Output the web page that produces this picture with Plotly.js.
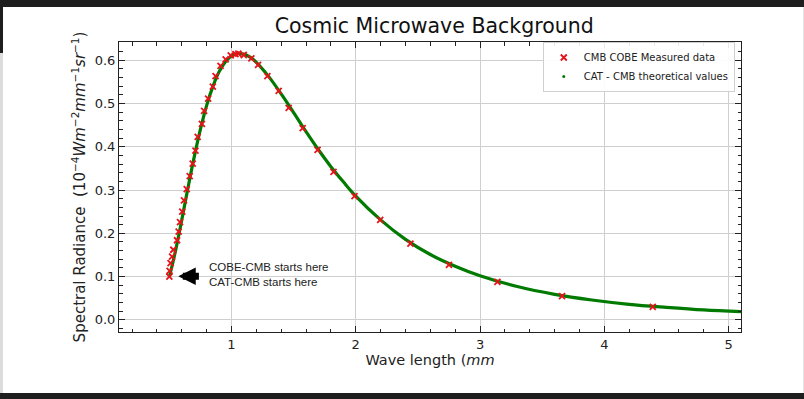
<!DOCTYPE html>
<html>
<head>
<meta charset="utf-8">
<script src="https://cdn.plot.ly/plotly-3.0.1.min.js"></script>
<style>
html,body{margin:0;padding:0;background:#fff;overflow:hidden;}
#chart{width:804px;height:399px;position:absolute;left:0;top:0;}
.bar{position:absolute;background:#1e1e1e;}
</style>
</head>
<body>
<div id="chart"></div>
<div class="bar" style="left:0;top:0;width:804px;height:7px;"></div>
<div class="bar" style="left:0;top:0;width:3px;height:53px;"></div>
<div class="bar" style="left:0;top:53px;width:3px;height:340px;background:#dcdcdc;"></div>
<div class="bar" style="left:803px;top:7px;width:1px;height:386px;background:#e6e6e6;"></div>
<div class="bar" style="left:0;top:393px;width:804px;height:6px;"></div>
<script>
// Theoretical (CAT-CMB) curve values
const theoWave = [0.50,0.55,0.60,0.65,0.70,0.75,0.80,0.85,0.90,0.95,1.00,1.05,1.10,1.15,1.20,1.30,1.40,1.50,1.60,1.70,1.80,1.90,2.00,2.20,2.40,2.60,2.80,3.00,3.30,3.60,3.90,4.20,4.50,4.80,5.10];
const theoRad  = [0.099,0.160,0.231,0.305,0.376,0.440,0.495,0.539,0.573,0.596,0.610,0.615,0.614,0.607,0.595,0.562,0.522,0.479,0.435,0.393,0.354,0.319,0.286,0.231,0.186,0.151,0.124,0.102,0.077,0.059,0.046,0.036,0.029,0.023,0.019];

// COBE measured points
const cobeWave = [0.500,0.502,0.510,0.522,0.532,0.562,0.575,0.586,0.604,0.618,0.640,0.664,0.688,0.710,0.728,0.762,0.780,0.812,0.850,0.872,0.912,0.953,0.994,1.032,1.055,1.099,1.160,1.214,1.289,1.380,1.460,1.573,1.693,1.821,1.990,2.197,2.440,2.750,3.140,3.660,4.390];
const cobeRad  = [0.100,0.113,0.131,0.146,0.162,0.184,0.204,0.226,0.250,0.276,0.302,0.332,0.361,0.391,0.423,0.453,0.483,0.511,0.539,0.563,0.587,0.602,0.611,0.614,0.615,0.612,0.604,0.589,0.563,0.529,0.490,0.443,0.393,0.342,0.286,0.231,0.176,0.127,0.088,0.055,0.030];

const xTicks = [1,2,3,4,5];
const yTicks = [0.0,0.1,0.2,0.3,0.4,0.5,0.6];

const traces = [
  {x: theoWave, y: theoRad, mode:'lines', line:{color:'#007a00', width:3.2, shape:'spline'}, showlegend:false, hoverinfo:'skip'},
  {x: cobeWave, y: cobeRad, mode:'markers', name:'CMB COBE Measured data',
   marker:{symbol:'x-thin-open', size:6, color:'#e8121a', line:{color:'#e8121a', width:1.8}}},
  {x:[null], y:[null], mode:'markers', name:'CAT - CMB theoretical values',
   marker:{symbol:'circle', size:3, color:'#007a00'}}
];

const tickFont = {family:'DejaVu Sans', size:13, color:'#222'};
const layout = {
  width:804, height:399,
  margin:{l:119, r:63, t:42, b:67, pad:0},
  paper_bgcolor:'#fff', plot_bgcolor:'#fff',
  font:{family:'DejaVu Sans', color:'#222'},
  title:{text:'Cosmic Microwave Background', font:{family:'DejaVu Sans', size:20.5, color:'#111'},
         x:0.54, xanchor:'center', y:0.935, yanchor:'middle', yref:'container'},
  xaxis:{range:[0.095,5.1], tickvals:xTicks, ticktext:xTicks.map(String), ticks:'inside', ticklen:6, tickwidth:1, tickcolor:'#222',
         showline:true, linecolor:'#222', linewidth:1, mirror:'allticks', zeroline:false,
         showgrid:true, gridcolor:'#cfcfcf', gridwidth:1, tickfont:tickFont,
         minor:{dtick:0.2, tick0:0, ticks:'inside', ticklen:3.5, tickcolor:'#222', showgrid:false},
         title:{text:'Wave length (<i>mm</i>', font:{family:'DejaVu Sans', size:14.5, color:'#222'}, standoff:3}},
  yaxis:{range:[-0.028,0.642], tickvals:yTicks, ticktext:yTicks.map(v=>v.toFixed(1)), ticks:'inside', ticklen:6, tickwidth:1, tickcolor:'#222',
         showline:true, linecolor:'#222', linewidth:1, mirror:'allticks', zeroline:false,
         showgrid:true, gridcolor:'#cfcfcf', gridwidth:1, tickfont:tickFont,
         minor:{dtick:0.02, tick0:0, ticks:'inside', ticklen:3.5, tickcolor:'#222', showgrid:false},
         title:{text:'Spectral Radiance  (10<sup>−4</sup><i>Wm</i><sup>−2</sup><i>mm</i><sup>−1</sup><i>sr</i><sup>−1</sup>)', font:{family:'DejaVu Sans', size:15, color:'#222'}, standoff:5}},
  legend:{x:0.99, y:1.0, xanchor:'right', yanchor:'top', bgcolor:'rgba(255,255,255,0.9)', bordercolor:'#d0d0d0', borderwidth:1,
          font:{family:'DejaVu Sans', size:10, color:'#222'}, itemwidth:30, tracegroupgap:0},
  annotations:[
    {x:0.572, y:0.101, ax:0.75, ay:0.101, axref:'x', ayref:'y', xref:'x', yref:'y', text:'', showarrow:true,
     arrowhead:2, arrowsize:0.5, arrowwidth:7, arrowcolor:'#000'},
    {x:0.8, y:0.104, xref:'x', yref:'y', xanchor:'left', yanchor:'middle', align:'left', showarrow:false,
     text:'COBE-CMB starts here<br>CAT-CMB starts here', font:{family:'Liberation Sans', size:11.5, color:'#222'}}
  ],
  showlegend:true
};
Plotly.newPlot('chart', traces, layout, {staticPlot:true, displayModeBar:false});
</script>
</body>
</html>
